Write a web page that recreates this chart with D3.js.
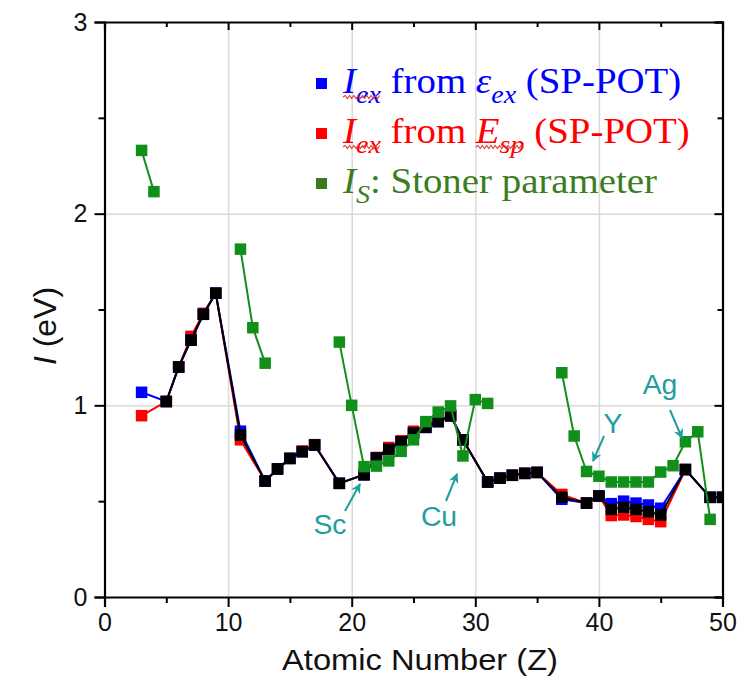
<!DOCTYPE html>
<html><head><meta charset="utf-8">
<script src="https://cdn.jsdelivr.net/npm/d3@7"></script>
<style>body{margin:0;background:#fff} svg{display:block} text{white-space:pre}</style>
</head><body>
<svg id="c" width="739" height="678"></svg>
<script>
// ---------- data ----------
const exZ = [5,6,7,8,9,11,13,14,15,16,17,19,21,22,23,24,25,26,27,28,29,31,32,33,34,35,37,39,40,41,42,43,44,45,47,49,50];
const blackI = [1.02,1.20,1.34,1.475,1.585,0.845,0.605,0.668,0.723,0.758,0.793,0.593,0.638,0.725,0.77,0.81,0.855,0.885,0.915,0.945,0.82,0.60,0.62,0.635,0.645,0.65,0.52,0.49,0.527,0.457,0.468,0.457,0.445,0.428,0.665,0.52,0.52];
const spZ = [3,5,6,7,8,9,11,13,14,15,16,17,19,21,22,23,24,25,26,27,28,29,31,32,33,34,35,37,39,40,41,42,43,44,45,47,49,50];
const blueI = [1.068,1.02,1.20,1.34,1.475,1.585,0.865,0.605,0.668,0.723,0.758,0.793,0.593,0.638,0.725,0.77,0.81,0.855,0.885,0.915,0.945,0.82,0.60,0.62,0.635,0.645,0.65,0.51,0.49,0.527,0.487,0.50,0.49,0.48,0.463,0.665,0.52,0.52];
const redI  = [0.946,1.02,1.20,1.36,1.48,1.585,0.82,0.605,0.668,0.723,0.762,0.795,0.593,0.638,0.728,0.78,0.815,0.865,0.895,0.92,0.948,0.82,0.60,0.62,0.635,0.645,0.65,0.535,0.49,0.527,0.425,0.428,0.42,0.405,0.393,0.665,0.52,0.52];
const greenZ = [3,4,11,12,13,19,20,21,22,23,24,25,26,27,28,29,30,31,37,38,39,40,41,42,43,44,45,46,47,48,49];
const greenI = [2.33,2.115,1.815,1.405,1.22,1.33,1.0,0.68,0.683,0.71,0.76,0.82,0.915,0.965,0.997,0.736,1.03,1.01,1.17,0.84,0.655,0.63,0.60,0.60,0.60,0.60,0.652,0.685,0.81,0.862,0.405];
const xMajor = [0,10,20,30,40,50];
const xMinor = [5,15,25,35,45];
const yMajor = [0,1,2,3];
const yMinor = [0.5,1.5,2.5];
const annotations = [
  {label:"Sc", tx:330, ty:534, x1:345, y1:511, x2:360, y2:484},
  {label:"Cu", tx:439, ty:526, x1:446, y1:501, x2:457, y2:474},
  {label:"Y",  tx:613, ty:433, x1:604, y1:436, x2:593, y2:461},
  {label:"Ag", tx:660, ty:394, x1:670, y1:410, x2:682, y2:438}
];

// ---------- setup ----------
const svg = d3.select("#c");
const L=104.5, R=722.5, T=22, B=597;
const x = d3.scaleLinear().domain([0,50]).range([L,R]);
const y = d3.scaleLinear().domain([0,3]).range([B,T]);
const SANS = "Liberation Sans, Arial, sans-serif";
const SERIF = "Liberation Serif, Times New Roman, serif";

const defs = svg.append("defs");
defs.append("clipPath").attr("id","clip")
  .append("rect").attr("x",L).attr("y",T-8).attr("width",R-L).attr("height",B-T+16);

// gridlines
svg.append("g").attr("transform",`translate(0,${B})`)
  .call(d3.axisBottom(x).tickValues([10,20,30,40]).tickSize(-(B-T)).tickFormat(""))
  .call(g=>g.select(".domain").remove())
  .selectAll("line").attr("stroke","#dadada").attr("stroke-width",1.5);
svg.append("g").attr("transform",`translate(${L},0)`)
  .call(d3.axisLeft(y).tickValues([1,2]).tickSize(-(R-L)).tickFormat(""))
  .call(g=>g.select(".domain").remove())
  .selectAll("line").attr("stroke","#dadada").attr("stroke-width",1.5);

// series
const plot = svg.append("g").attr("clip-path","url(#clip)");
const line = d3.line().x(d=>x(d[0])).y(d=>y(d[1]));
function series(zs, vs, color, splitGaps){
  const pts = zs.map((z,i)=>[z,vs[i]]);
  let segs=[[]];
  pts.forEach((p,i)=>{
    if(splitGaps && i>0 && p[0]-pts[i-1][0]>1) segs.push([]);
    segs[segs.length-1].push(p);
  });
  const g = plot.append("g");
  g.selectAll("path").data(segs).join("path")
    .attr("d",line).attr("fill","none").attr("stroke",color).attr("stroke-width",2);
  const s=11.5;
  g.selectAll("rect").data(pts).join("rect")
    .attr("x",d=>x(d[0])-s/2).attr("y",d=>y(d[1])-s/2)
    .attr("width",s).attr("height",s).attr("fill",color);
}
series(spZ, redI, "#ff0000", false);
series(spZ, blueI, "#0000ff", false);
series(exZ, blackI, "#000000", false);
series(greenZ, greenI, "#10901a", true);

// axes
function styleAxis(g){
  g.selectAll("line").attr("stroke","#000").attr("stroke-width",2);
  g.select(".domain").attr("stroke","#000").attr("stroke-width",2.2);
  g.selectAll("text").attr("font-family",SANS).attr("font-size",25).attr("fill","#111");
}
svg.append("g").attr("transform",`translate(0,${B})`)
  .call(d3.axisBottom(x).tickValues(xMajor).tickSize(10).tickPadding(6).tickFormat(d3.format("d")))
  .call(styleAxis);
svg.append("g").attr("transform",`translate(0,${B})`)
  .call(d3.axisBottom(x).tickValues(xMinor).tickSize(6).tickFormat(""))
  .call(styleAxis).call(g=>g.select(".domain").remove());
svg.append("g").attr("transform",`translate(${L},0)`)
  .call(d3.axisLeft(y).tickValues(yMajor).tickSize(10).tickPadding(7).tickFormat(d3.format("d")))
  .call(styleAxis);
svg.append("g").attr("transform",`translate(${L},0)`)
  .call(d3.axisLeft(y).tickValues(yMinor).tickSize(6).tickFormat(""))
  .call(styleAxis).call(g=>g.select(".domain").remove());
svg.append("g").attr("transform",`translate(${R},0)`)
  .call(d3.axisRight(y).tickValues(yMajor).tickSize(-8).tickFormat(""))
  .call(styleAxis);
svg.append("g").attr("transform",`translate(${R},0)`)
  .call(d3.axisRight(y).tickValues(yMinor).tickSize(-5).tickFormat(""))
  .call(styleAxis).call(g=>g.select(".domain").remove());
svg.append("g").attr("transform",`translate(0,${T})`)
  .call(d3.axisTop(x).tickValues(xMajor).tickSize(-8).tickFormat(""))
  .call(styleAxis);
svg.append("g").attr("transform",`translate(0,${T})`)
  .call(d3.axisTop(x).tickValues(xMinor).tickSize(-5).tickFormat(""))
  .call(styleAxis).call(g=>g.select(".domain").remove());

// axis titles
svg.append("text").attr("transform",`translate(420,670) scale(1.09,1)`)
  .attr("text-anchor","middle").attr("font-family",SANS).attr("font-size",30).attr("fill","#111")
  .text("Atomic Number (Z)");
const yt = svg.append("text").attr("transform","translate(56,326) rotate(-90)")
  .attr("text-anchor","middle").attr("font-family",SANS).attr("font-size",32).attr("fill","#111");
yt.append("tspan").attr("font-style","italic").text("I");
yt.append("tspan").text(" (eV)");

// annotations
const teal="#1f9e9e";
defs.append("marker").attr("id","ah").attr("viewBox","0 0 10 10").attr("refX",9).attr("refY",5)
  .attr("markerWidth",5).attr("markerHeight",5).attr("orient","auto")
  .append("path").attr("d","M0,0 L10,5 L0,10 L3,5 Z").attr("fill",teal);
const ann = svg.append("g").selectAll("g").data(annotations).join("g");
ann.append("line").attr("x1",d=>d.x1).attr("y1",d=>d.y1).attr("x2",d=>d.x2).attr("y2",d=>d.y2)
  .attr("stroke",teal).attr("stroke-width",2).attr("marker-end","url(#ah)");
ann.append("text").attr("transform",d=>`translate(${d.tx},${d.ty}) scale(1.05,1)`)
  .attr("text-anchor","middle").attr("font-family",SANS).attr("font-size",27).attr("fill",teal)
  .text(d=>d.label);

// legend
const legend = [
  {color:"#0000ff", y:93, parts:[["I","i"],["ex","s"],[" from ",""],["ε","i"],["ex","s"],[" (SP-POT)",""]], squig:[[0,2]]},
  {color:"#ff0000", y:143, parts:[["I","i"],["ex","s"],[" from ",""],["E","i"],["sp","s"],[" (SP-POT)",""]], squig:[[0,2],[9,11]]},
  {color:"#3c7d1e", mcolor:"#3a7a20", y:193, parts:[["I","i"],["S","s"],[": Stoner parameter",""]], squig:[]}
];
const FS=36, SUB=26, SH=10, LSX=1.08;
legend.forEach(it=>{
  svg.append("rect").attr("x",316).attr("y",it.y-15).attr("width",11).attr("height",11)
    .attr("fill",it.mcolor||it.color);
  const g = svg.append("g").attr("transform",`translate(343,${it.y}) scale(${LSX},1)`);
  const t = g.append("text").attr("x",0).attr("y",0).attr("font-family",SERIF)
    .attr("font-size",FS).attr("fill",it.color);
  let shifted=false;
  it.parts.forEach(([s,k])=>{
    const ts=t.append("tspan").text(s);
    if(k==="i"||k==="s") ts.attr("font-style","italic");
    if(k==="s"){ ts.attr("font-size",SUB).attr("dy",SH); shifted=true; }
    else if(shifted){ ts.attr("dy",-SH); shifted=false; }
  });
  const node=t.node();
  it.squig.forEach(([a,b])=>{
    const x0=node.getStartPositionOfChar(a).x, x1=node.getEndPositionOfChar(b).x;
    let d=`M${x0},4`; let up=true;
    for(let xx=x0+2; xx<=x1; xx+=2){ d+=` L${xx},${4+(up?-1.5:1.5)}`; up=!up; }
    g.append("path").attr("d",d).attr("fill","none").attr("stroke","#e04040").attr("stroke-width",1);
  });
});
</script>
</body></html>
